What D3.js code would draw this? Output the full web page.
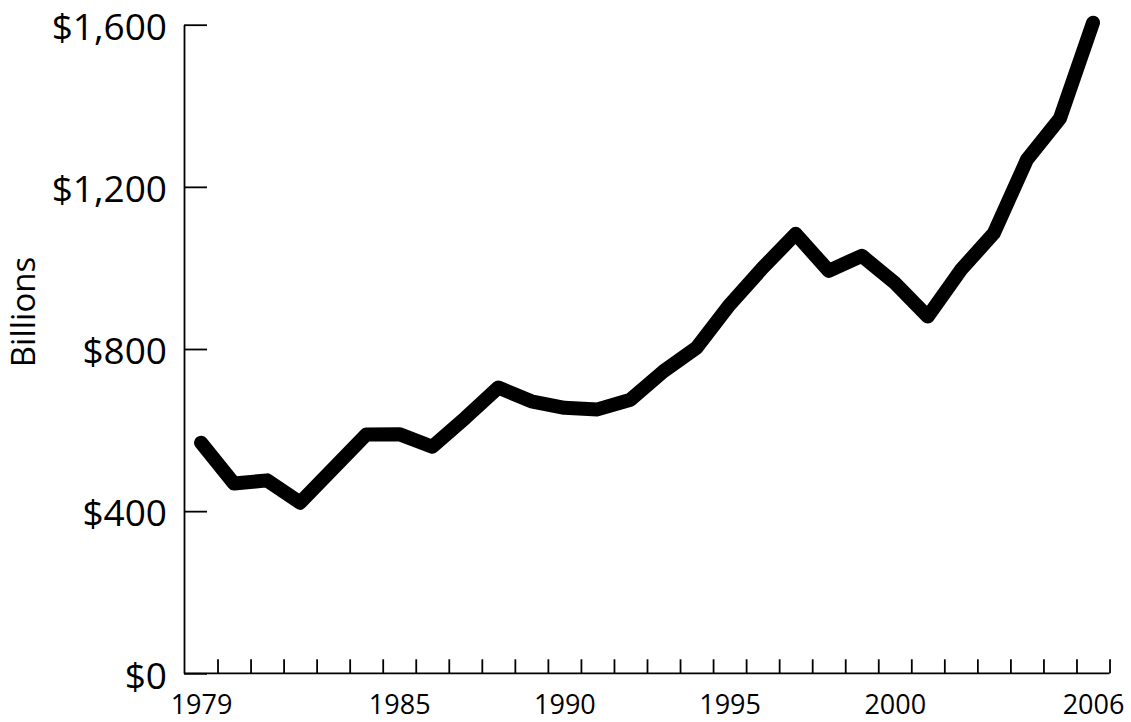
<!DOCTYPE html>
<html lang="en">
<head>
    <meta charset="UTF-8">
    <title>Billions</title>
    <style>
        body { margin: 0; background: #fff; }
        text { font-family: "Open Sans", "Noto Sans", sans-serif; fill: #000; }
    </style>
</head>
<body>
<div id="chart"></div>
<script src="https://cdn.jsdelivr.net/npm/d3@7/dist/d3.min.js"></script>
<script>
    const years = d3.range(1979, 2007);
    const values = [569, 468, 476, 421, 505, 589, 590, 559, 630, 705,
        671, 655, 651, 675, 745, 803, 909, 1000, 1084, 993,
        1030, 963, 880, 995, 1086, 1267, 1369, 1605];
    const yearLabels = [1979, 1985, 1990, 1995, 2000, 2006];
    const yTicks = [0, 400, 800, 1200, 1600];

    const width = 1131,
        height = 722;

    const data = years.map((y, i) => ({"year": y, "value": values[i]}));

    const x = d3.scaleLinear().domain([1979, 2006]).range([201, 1093]);
    const y = d3.scaleLinear().domain([0, 1600]).range([673.3, 24.7]);
    const axisX = 184;

    let svg = d3.select("#chart")
        .append("svg")
        .attr("width", width)
        .attr("height", height);

    // y axis: ticks point into the plot, labels on the left
    let yAxis = svg.append("g")
        .attr("transform", `translate(${axisX},0)`)
        .call(d3.axisLeft(y)
            .tickValues(yTicks)
            .tickSizeInner(-23)
            .tickSizeOuter(0)
            .tickPadding(17)
            .tickFormat(d => "$" + d3.format(",")(d)));
    yAxis.selectAll("path, line").attr("stroke", "#000").attr("stroke-width", 1.8);
    yAxis.selectAll("text")
        .style("font-size", "37px")
        .attr("dy", "0.40em");

    // x axis baseline and yearly ticks between the years
    let xTicks = svg.append("g")
        .attr("transform", `translate(0,${y(0)})`)
        .call(d3.axisBottom(x)
            .tickValues(years.map(d => d + 0.5))
            .tickSizeInner(-14)
            .tickSizeOuter(0)
            .tickFormat(""));
    xTicks.select(".domain").remove();
    xTicks.selectAll("line").attr("stroke", "#000").attr("stroke-width", 1.8);

    svg.append("line")
        .attr("x1", axisX)
        .attr("x2", x(2006.5))
        .attr("y1", y(0))
        .attr("y2", y(0))
        .attr("stroke", "#000")
        .attr("stroke-width", 1.8);

    let xLabels = svg.append("g")
        .attr("transform", `translate(0,${y(0)})`)
        .call(d3.axisBottom(x)
            .tickValues(yearLabels)
            .tickSize(0)
            .tickPadding(22)
            .tickFormat(d3.format("d")));
    xLabels.select(".domain").remove();
    xLabels.selectAll("text").style("font-size", "27px");

    svg.append("text")
        .attr("transform", `translate(35,312) rotate(-90)`)
        .attr("text-anchor", "middle")
        .style("font-size", "33px")
        .text("Billions");

    let line = d3.line()
        .x(d => x(d.year))
        .y(d => y(d.value));

    svg.append("path")
        .datum(data)
        .attr("d", line)
        .attr("fill", "none")
        .attr("stroke", "#000")
        .attr("stroke-width", 14)
        .attr("stroke-linejoin", "round")
        .attr("stroke-linecap", "round");
</script>
</body>
</html>
